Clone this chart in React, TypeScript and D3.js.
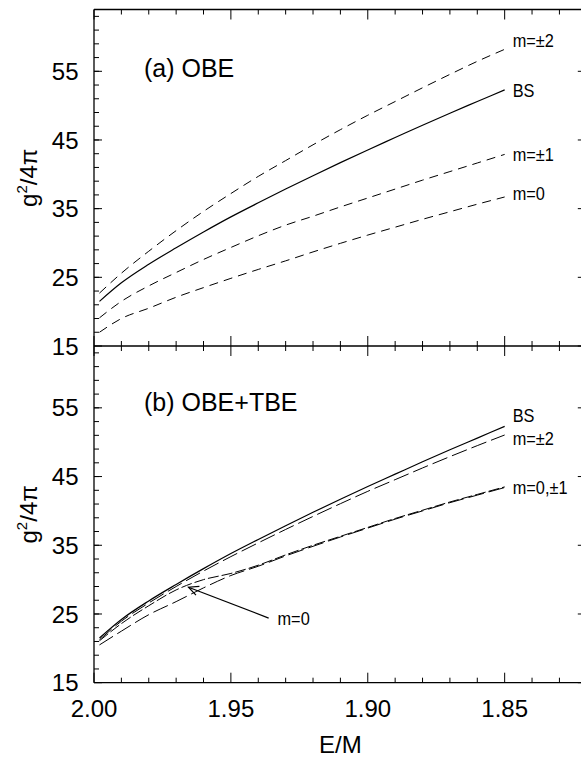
import React from "react";
import * as d3 from "d3";

// ---------- data ----------
const emGrid = [1.998, 1.99, 1.98, 1.97, 1.96, 1.95, 1.94, 1.93, 1.92, 1.91, 1.9, 1.89, 1.88, 1.87, 1.86, 1.85];

// (a) OBE
const bsValues = [21.5, 24.2, 26.9, 29.3, 31.6, 33.8, 35.85, 37.85, 39.8, 41.7, 43.55, 45.35, 47.15, 48.9, 50.6, 52.3];
const obeM2 = [22.7, 25.6, 28.8, 31.8, 34.6, 37.2, 39.7, 42.0, 44.3, 46.5, 48.6, 50.6, 52.6, 54.55, 56.45, 58.2];
const obeM1 = [19.1, 21.5, 23.75, 25.7, 27.6, 29.35, 31.05, 32.6, 33.9, 35.25, 36.55, 37.85, 39.15, 40.4, 41.65, 42.9];
const obeM0 = [17.0, 19.0, 20.5, 22.1, 23.5, 24.85, 26.15, 27.4, 28.7, 29.95, 31.15, 32.3, 33.45, 34.55, 35.65, 36.7];

// (b) OBE+TBE
const tbeM2 = [21.25, 23.95, 26.6, 29.0, 31.25, 33.35, 35.35, 37.3, 39.2, 41.05, 42.85, 44.55, 46.25, 47.9, 49.5, 51.05];
const tbeM1 = [20.5, 22.5, 24.9, 26.8, 28.8, 30.6, 31.95, 33.45, 34.85, 36.2, 37.5, 38.8, 40.0, 41.2, 42.3, 43.4];
const tbeM0 = [21.1, 23.6, 26.2, 28.5, 30.0, 30.9, 32.1, 33.6, 35.0, 36.3, 37.6, 38.9, 40.1, 41.3, 42.4, 43.5];

const yMajorTicks = [15, 25, 35, 45, 55];
const yMinorTicks = d3.range(17, 64, 2);
const xMajorTicks = [2.0, 1.95, 1.9, 1.85];
const xMinorTicks = d3.range(0, 19).map((i) => +(2.0 - i * 0.01).toFixed(2));

// annotation in panel (b): arrow pointing to m=0
const arrowTip = { em: 1.9655, g: 28.9 };
const arrowTail = { em: 1.9362, g: 24.4 };

// ---------- layout ----------
const W = 581;
const H = 757;
const X0 = 94;
const X1 = 586.8;
const YT = 9.5;
const YM = 346;
const YB = 682.7;

const FONT = "'Liberation Sans', Arial, Helvetica, sans-serif";

export default function App() {
  const x = d3.scaleLinear().domain([2.0, 1.82]).range([X0, X1]);
  const yTop = d3.scaleLinear().domain([15, 64]).range([YM, YT]);
  const yBot = d3.scaleLinear().domain([15, 64]).range([YB, YM]);

  const mkLine = (y: d3.ScaleLinear<number, number>, vals: number[]) =>
    d3
      .line<number>()
      .x((_, i) => x(emGrid[i]))
      .y((v) => y(v))
      .curve(d3.curveMonotoneX)(vals) || "";

  const curves = [
    { y: yTop, vals: obeM2, dash: "9,6", w: 1 },
    { y: yTop, vals: bsValues, dash: "", w: 1.2 },
    { y: yTop, vals: obeM1, dash: "9,6", w: 1 },
    { y: yTop, vals: obeM0, dash: "9,6", w: 1 },
    { y: yBot, vals: bsValues, dash: "", w: 1.2 },
    { y: yBot, vals: tbeM2, dash: "16,5", w: 1 },
    { y: yBot, vals: tbeM1, dash: "16,5", w: 1 },
    { y: yBot, vals: tbeM0, dash: "11,3", w: 1 },
  ];

  // arrow geometry
  const tx = x(arrowTip.em), ty = yBot(arrowTip.g);
  const sx = x(arrowTail.em), sy = yBot(arrowTail.g);
  const ang = Math.atan2(sy - ty, sx - tx);
  const headLen = 11;
  const headA = 0.45;
  const h1 = [tx + headLen * Math.cos(ang + headA), ty + headLen * Math.sin(ang + headA)];
  const h2 = [tx + headLen * Math.cos(ang - headA), ty + headLen * Math.sin(ang - headA)];

  const panels = [yTop, yBot];

  const curveLabel = (lx: number, ly: number, text: string, key: string) => (
    <text key={key} transform={`translate(${lx},${ly}) scale(0.86,1)`} fontSize={19} fontFamily={FONT} fill="#000">
      {text}
    </text>
  );

  return (
    <svg width={W} height={H} style={{ position: "absolute", left: 0, top: 0, background: "#fff" }}>
      <rect x={0} y={0} width={W} height={H} fill="#fff" />
      {/* curves */}
      {curves.map((c, i) => (
        <path key={i} d={mkLine(c.y, c.vals)} fill="none" stroke="#000" strokeWidth={c.w} strokeDasharray={c.dash || undefined} />
      ))}

      {/* frames */}
      <g stroke="#000" strokeWidth={1.3} fill="none">
        <line x1={X0} y1={YT} x2={X0} y2={YB} />
        <line x1={X1} y1={YT} x2={X1} y2={YB} />
        <line x1={X0} y1={YT} x2={X1} y2={YT} />
        <line x1={X0} y1={YM} x2={X1} y2={YM} />
        <line x1={X0} y1={YB} x2={X1} y2={YB} />
      </g>

      {/* y ticks */}
      <g stroke="#000" strokeWidth={1}>
        {panels.map((y, p) => (
          <g key={p}>
            {yMajorTicks.map((t) => (
              <g key={"M" + t}>
                <line x1={X0} x2={X0 + 8} y1={y(t)} y2={y(t)} />
                <line x1={X1} x2={X1 - 9} y1={y(t)} y2={y(t)} />
              </g>
            ))}
            {yMinorTicks.map((t) => (
              <line key={"m" + t} x1={X0} x2={X0 + 5} y1={y(t)} y2={y(t)} />
            ))}
          </g>
        ))}
        {/* x ticks */}
        {[
          { y0: YT, dir: 1 },
          { y0: YM, dir: -1 },
          { y0: YM, dir: 1 },
          { y0: YB, dir: -1 },
        ].map((a, k) => (
          <g key={k}>
            {xMinorTicks.map((t) => {
              const major = xMajorTicks.some((m) => Math.abs(m - t) < 1e-6);
              const len = major ? 10 : 5;
              return <line key={t} x1={x(t)} x2={x(t)} y1={a.y0} y2={a.y0 + a.dir * len} />;
            })}
          </g>
        ))}
      </g>

      {/* y tick labels */}
      {panels.map((y, p) =>
        yMajorTicks.map((t) => (
          <text key={p + "-" + t} x={78.5} y={y(t)} dy="0.36em" textAnchor="end" fontSize={24} fontFamily={FONT}>
            {t}
          </text>
        ))
      )}
      {/* x tick labels */}
      {xMajorTicks.map((t) => (
        <text key={t} x={x(t)} y={716.5} textAnchor="middle" fontSize={24} fontFamily={FONT}>
          {t.toFixed(2)}
        </text>
      ))}

      {/* axis titles */}
      {[yTop, yBot].map((y, p) => (
        <text
          key={"yt" + p}
          transform={`translate(37,${(y(15) + y(64)) / 2}) rotate(-90)`}
          textAnchor="middle"
          fontSize={24}
          fontFamily={FONT}
        >
          g<tspan dy="-10" fontSize={15}>2</tspan>
          <tspan dy="10">/4π</tspan>
        </text>
      ))}
      <text x={(X0 + X1) / 2} y={753} textAnchor="middle" fontSize={24} fontFamily={FONT}>
        E/M
      </text>

      {/* panel labels */}
      <text x={144} y={77} fontSize={25} fontFamily={FONT}>(a) OBE</text>
      <text x={144} y={411} fontSize={25} fontFamily={FONT}>(b) OBE+TBE</text>

      {/* curve labels */}
      {curveLabel(512.7, 46.5, "m=±2", "a1")}
      {curveLabel(512.7, 97, "BS", "a2")}
      {curveLabel(512.7, 160.5, "m=±1", "a3")}
      {curveLabel(512.7, 200, "m=0", "a4")}
      {curveLabel(512.7, 421.5, "BS", "b1")}
      {curveLabel(512.7, 445, "m=±2", "b2")}
      {curveLabel(512.7, 494, "m=0,±1", "b3")}
      {curveLabel(277.5, 625, "m=0", "b4")}

      {/* arrow */}
      <g stroke="#000" strokeWidth={1.2} fill="none">
        <line x1={sx} y1={sy} x2={tx} y2={ty} />
        <polyline points={`${h1[0]},${h1[1]} ${tx},${ty} ${h2[0]},${h2[1]}`} />
      </g>
    </svg>
  );
}
